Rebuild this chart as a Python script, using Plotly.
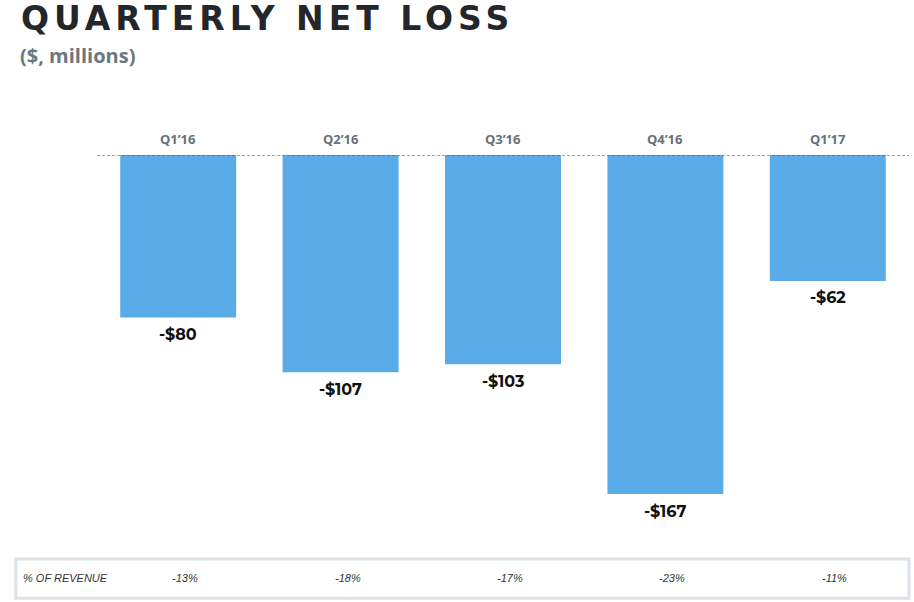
import plotly.graph_objects as go

quarters = ["Q1’16", "Q2’16", "Q3’16", "Q4’16", "Q1’17"]
net_loss = [-80, -107, -103, -167, -62]
value_labels = ["-$80", "-$107", "-$103", "-$167", "-$62"]
pct_revenue = ["-13%", "-18%", "-17%", "-23%", "-11%"]

BAR = "#5aace8"
fig = go.Figure()
fig.add_trace(go.Bar(x=quarters, y=net_loss, marker=dict(color=BAR, line=dict(width=0)),
                     hoverinfo="skip"))

annotations = []
for q, v, lab in zip(quarters, net_loss, value_labels):
    annotations.append(dict(x=q, y=v, xref="x", yref="y", text=f"<b>{lab}</b>",
                            showarrow=False, yshift=-17,
                            font=dict(family="Montserrat, DejaVu Sans", size=16, color="#111111")))
    annotations.append(dict(x=q, y=0, xref="x", yref="y", text=f"<b>{q}</b>",
                            showarrow=False, yshift=16,
                            font=dict(family="Open Sans", size=13, color="#66717a")))
for q, p in zip(quarters, pct_revenue):
    annotations.append(dict(x=q, y=-0.058, xref="x", yref="paper", text=f"<i>{p}</i>",
                            showarrow=False, xshift=7, yanchor="middle",
                            font=dict(family="Liberation Sans Narrow, Liberation Sans", size=11, color="#333333")))
annotations.append(dict(x=0.0, xref="paper", y=-0.058, yref="paper", text="<i>% OF REVENUE</i>",
                        showarrow=False, xanchor="left", yanchor="middle", xshift=-76,
                        font=dict(family="Liberation Sans Narrow, Liberation Sans", size=11, color="#333333")))
annotations.append(dict(x=0, y=1, xref="paper", yref="paper", xanchor="left", yanchor="middle",
                        xshift=-33, yshift=137,
                        text="<b>QUARTERLY NET LOSS</b>", showarrow=False,
                        font=dict(family="DejaVu Sans", size=33, color="#23272b")))
annotations.append(dict(x=0, y=1, xref="paper", yref="paper", xanchor="left", yanchor="middle",
                        xshift=-79, yshift=100,
                        text="<b>($, millions)</b>", showarrow=False,
                        font=dict(family="Open Sans", size=20, color="#6b7780")))

shapes = [
    dict(type="line", xref="paper", yref="y", x0=0, x1=1, y0=0, y1=0,
         line=dict(color="#444444", width=1, dash="3px,2px"), layer="above"),
    dict(type="rect", xref="paper", yref="paper", x0=-0.1, x1=1.0, y0=-0.01, y1=-0.108,
         line=dict(color="#dce2e7", width=3), fillcolor="rgba(0,0,0,0)"),
]

fig.update_layout(
    width=914, height=602,
    margin=dict(l=97, r=5, t=155, b=47),
    paper_bgcolor="white", plot_bgcolor="white",
    bargap=0.286, showlegend=False,
    xaxis=dict(range=[-0.5, 4.5], showticklabels=False, showgrid=False, zeroline=False, showline=False),
    yaxis=dict(range=[-197, 0], showticklabels=False, showgrid=False, zeroline=False, showline=False),
    annotations=annotations, shapes=shapes,
)

post = """
document.body.style.margin = '0';
document.body.style.overflow = 'hidden';
document.querySelectorAll('.annotation-text').forEach(function(t){
  if (t.textContent.indexOf('QUARTERLY') === 0) { t.style.letterSpacing = '5px'; }
});
"""
fig.write_html("out.html", post_script=post, config={"displayModeBar": False})
